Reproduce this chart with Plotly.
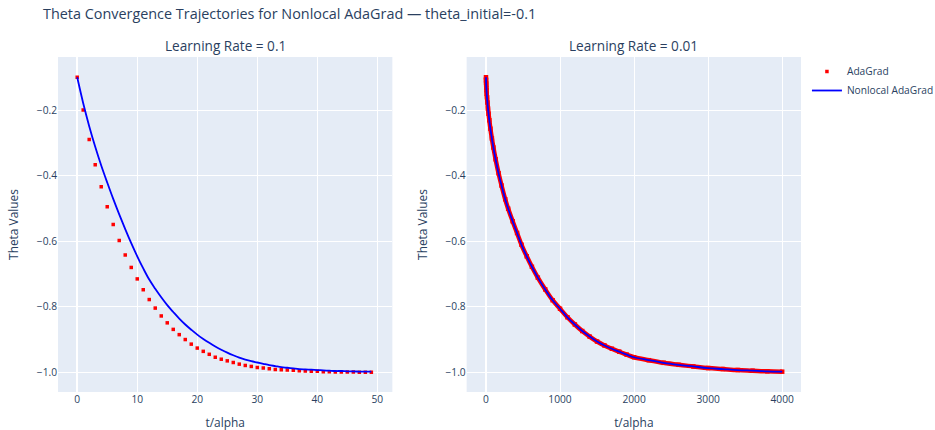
import plotly.graph_objects as go
from plotly.subplots import make_subplots

# ---- Learning rate 0.1 ----
t_lr01 = list(range(50))
adagrad_lr01 = [
    -0.100, -0.200, -0.290, -0.367, -0.434, -0.495, -0.549, -0.598, -0.642, -0.680,
    -0.715, -0.748, -0.778, -0.804, -0.828, -0.849, -0.869, -0.885, -0.900, -0.914,
    -0.926, -0.936, -0.945, -0.954, -0.960, -0.965, -0.970, -0.975, -0.979, -0.982,
    -0.985, -0.987, -0.989, -0.991, -0.992, -0.993, -0.994, -0.995, -0.996, -0.997,
    -0.997, -0.998, -0.998, -0.999, -0.999, -0.999, -0.999, -1.000, -1.000, -1.000,
]
nonlocal_lr01 = [
    -0.100, -0.179, -0.249, -0.312, -0.369, -0.421, -0.471, -0.518, -0.563, -0.606,
    -0.646, -0.683, -0.717, -0.745, -0.771, -0.795, -0.816, -0.836, -0.854, -0.870,
    -0.885, -0.898, -0.910, -0.921, -0.931, -0.940, -0.948, -0.955, -0.961, -0.966,
    -0.970, -0.974, -0.978, -0.981, -0.984, -0.986, -0.988, -0.990, -0.991, -0.992,
    -0.993, -0.994, -0.995, -0.996, -0.996, -0.997, -0.997, -0.998, -0.998, -0.998,
]

# ---- Learning rate 0.01 ----
t_lr001 = [
    0, 1, 2, 3, 5, 7, 10, 14, 20, 27, 35, 45, 60, 80, 100, 130, 170, 210, 260, 300,
    360, 420, 480, 550, 620, 700, 800, 900, 1000, 1100, 1200, 1300, 1400, 1500, 1600,
    1700, 1800, 1900, 2000, 2200, 2400, 2600, 2800, 3000, 3200, 3400, 3600, 3800, 4000,
]
adagrad_lr001 = [
    -0.100, -0.110, -0.117, -0.123, -0.132, -0.139, -0.150, -0.161, -0.177, -0.195,
    -0.211, -0.231, -0.257, -0.287, -0.314, -0.350, -0.393, -0.430, -0.472, -0.501,
    -0.539, -0.575, -0.611, -0.646, -0.678, -0.711, -0.747, -0.780, -0.806, -0.832,
    -0.854, -0.874, -0.891, -0.906, -0.918, -0.928, -0.937, -0.946, -0.954, -0.963,
    -0.971, -0.977, -0.982, -0.987, -0.990, -0.993, -0.995, -0.997, -0.998,
]
nonlocal_lr001 = list(adagrad_lr001)

subplot_titles = ["Learning Rate = 0.1", "Learning Rate = 0.01"]

fig = make_subplots(rows=1, cols=2, subplot_titles=subplot_titles,
                    horizontal_spacing=0.1)

# left panel
fig.add_trace(go.Scatter(
    x=t_lr01, y=adagrad_lr01, mode="markers", name="AdaGrad",
    marker=dict(color="red", symbol="square", size=3.5)), row=1, col=1)
fig.add_trace(go.Scatter(
    x=t_lr01, y=nonlocal_lr01, mode="lines", name="Nonlocal AdaGrad",
    line=dict(color="blue", width=1.8, shape="spline")), row=1, col=1)

# right panel
fig.add_trace(go.Scatter(
    x=t_lr001, y=adagrad_lr001, mode="lines+markers", name="AdaGrad",
    marker=dict(color="red", symbol="square", size=4.5),
    line=dict(color="red", width=4.5, shape="spline"),
    showlegend=False), row=1, col=2)
fig.add_trace(go.Scatter(
    x=t_lr001, y=nonlocal_lr001, mode="lines", name="Nonlocal AdaGrad",
    line=dict(color="blue", width=1.8, shape="spline"),
    showlegend=False), row=1, col=2)

fig.update_annotations(font_size=13.6)

fig.update_layout(
    width=935, height=430,
    template="plotly",
    font=dict(size=10.2),
    title=dict(text="Theta Convergence Trajectories for Nonlocal AdaGrad \u2014 theta_initial=-0.1",
               x=0.046, xanchor="left", y=0.967, yanchor="middle",
               font=dict(size=14.4)),
    margin=dict(l=58, r=134, t=57, b=38, autoexpand=False),
    legend=dict(x=1.008, y=1.0, font=dict(size=10.2)),
)

fig.update_xaxes(title_text="t/alpha", title_font_size=11.9, automargin=False)
fig.update_yaxes(title_text="Theta Values", title_font_size=11.9, tickformat=".1f",
                 dtick=0.2, range=[-1.06, -0.038], automargin=False)
fig.update_xaxes(range=[-3.2, 52.5], dtick=10, row=1, col=1)
fig.update_xaxes(range=[-261, 4254], dtick=1000, row=1, col=2)

fig.write_html("out.html")
